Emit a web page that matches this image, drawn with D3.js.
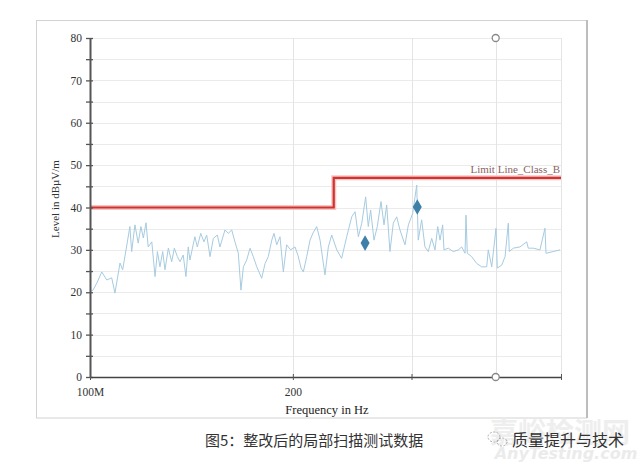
<!DOCTYPE html>
<html><head><meta charset="utf-8">
<script src="https://cdn.jsdelivr.net/npm/d3@7"></script>
<style>body{margin:0;background:#fff}svg{display:block}</style>
</head><body>
<svg id="c" width="643" height="468"></svg>
<script>
// ---- data ----
const freqMHz = [100,101.0,102.4,104.1,105.9,107.7,108.9,110.8,111.8,113.1,114.6,115.3,116.6,117.9,119.0,120.0,121.1,122.0,123.5,124.9,125.9,127.0,128.2,129.2,130.7,132.2,133.4,134.8,136.0,137.5,138.8,139.9,140.7,143.1,144.3,146.0,147.6,149.0,150.7,152.4,154.5,155.9,158.6,160.4,162.3,164.1,166.0,167.5,168.9,170.8,172.8,174.7,176.8,179.8,181.9,183.9,186.1,187.5,189.3,191.4,193.6,195.8,198.5,201.5,203.6,205.7,207.3,209.7,212.1,214.3,217.0,219.5,223.2,225.8,228.4,232.4,236.3,240.4,244.6,247.4,250.2,253.1,256.5,258.8,260.9,263.9,266.9,270.3,273.1,275.6,278.7,281.9,285.2,288.4,293.4,296.8,301.2,305.4,307.0,310.6,314.1,317.7,321.4,325.1,328.1,330.7,333.7,335.2,340.2,346.0,352.0,356.1,360.2,361.4,363.0,368.5,374.9,381.3,387.9,390.0,394.6,400.4,402.2,408.3,413.0,417.6,419.0,424.8,434.6,444.7,447.1,454.8,465.3,473.3,475.0,486.9,498.3];
const levelDb = [20.1,20.5,22.2,24.8,22.9,23.4,19.8,26.9,25.3,30.0,35.5,29.6,35.9,31.6,35.5,32.8,36.4,30.7,31.9,23.7,29.6,26.0,29.6,25.3,30.4,27.2,30.4,28.4,27.2,28.8,23.7,30.7,27.6,33.1,30.7,33.9,31.9,33.5,28.4,32.7,33.5,30.7,34.7,33.9,34.7,31.9,29.2,20.5,26.0,27.6,30.4,28.4,26.0,23.3,26.8,28.4,32.3,33.9,31.2,33.1,24.8,31.2,30.0,30.7,28.6,25.7,24.8,28.4,32.3,34.0,35.5,32.3,24.1,30.7,33.5,30.0,28.0,33.1,37.8,39.0,33.1,36.3,42.5,35.5,39.4,32.3,35.5,41.4,35.9,40.6,29.6,36.3,37.8,34.7,31.2,35.9,38.6,45.3,32.3,37.1,30.7,29.6,32.7,30.0,35.5,32.3,35.9,30.0,30.4,29.6,30.0,30.7,29.2,38.2,29.2,28.4,26.8,26.0,26.0,30.0,26.0,35.1,25.7,26.4,28.4,36.3,29.6,30.4,30.7,31.9,30.4,30.4,30.0,35.1,29.2,29.6,30.0];
const limitFreq = [100, 230, 230, 500];
const limitDb = [40, 40, 47, 47];
const limitName = "Limit Line_Class_B";
const peakFreq = [256, 306];
const peakDb = [31.6, 40.1];
const cursorFreq = [400, 400];
const cursorDb = [80, 0];
const xTicks = [100, 200, 300, 400, 500];
const xTickLabels = ["100M", "200", "", "", ""];
const yMajor = [0,10,20,30,40,50,60,70,80];
const yMinor = [5,15,25,35,45,55,65,75];
const xTitle = "Frequency in Hz";
const yTitle = "Level in dBµV/m";
const caption = "图5：整改后的局部扫描测试数据";
const brand = "质量提升与技术";

// ---- chart ----
const svg = d3.select("#c");
const L = 90, R = 561, T = 38, B = 377;
const x = d3.scaleLog().domain([100, 500]).range([L, R]);
const y = d3.scaleLinear().domain([0, 80]).range([B, T]);
const serif = "'Liberation Serif','DejaVu Serif',serif";

svg.append("rect").attr("width",643).attr("height",468).attr("fill","#fff");
// frame
svg.append("rect").attr("x",36.5).attr("y",20.5).attr("width",550).attr("height",397.5)
  .attr("fill","none").attr("stroke","#d2d2d2");
svg.append("line").attr("x1",587).attr("x2",587).attr("y1",20).attr("y2",418)
  .attr("stroke","#bdbdbd").attr("stroke-width",2);

// grid
const g = svg.append("g");
g.selectAll(".hg").data(yMajor.concat(yMinor).filter(d=>d>0)).join("line")
  .attr("x1",L).attr("x2",R).attr("y1",d=>Math.round(y(d))+0.5).attr("y2",d=>Math.round(y(d))+0.5)
  .attr("stroke","#ebebeb");
g.selectAll(".vg").data(xTicks.slice(1)).join("line")
  .attr("x1",d=>Math.round(x(d))+0.5).attr("x2",d=>Math.round(x(d))+0.5).attr("y1",T).attr("y2",B)
  .attr("stroke","#e4e4e4");

// trace
const pts = freqMHz.map((f,i)=>[f, levelDb[i]]);
svg.append("path").datum(pts)
  .attr("d", d3.line().x(d=>x(d[0])).y(d=>y(d[1])))
  .attr("fill","none").attr("stroke","#a6cbe0").attr("stroke-width",1);

// limit line
const lim = limitFreq.map((f,i)=>[f, limitDb[i]]);
const limLine = d3.line().x(d=>x(d[0])).y(d=>y(d[1]));
svg.append("path").datum(lim).attr("d",limLine).attr("fill","none")
  .attr("stroke","#f6c6c4").attr("stroke-width",5);
svg.append("path").datum(lim).attr("d",limLine).attr("fill","none")
  .attr("stroke","#d03432").attr("stroke-width",2.2);
svg.append("text").attr("x",x(limitFreq[3])-1).attr("y",y(limitDb[3])-5)
  .attr("text-anchor","end").attr("font-family",serif).attr("font-size",11)
  .attr("fill","#8a6464").text(limitName);

// axes
const yAxis = d3.axisLeft(y).tickValues(yMajor.concat(yMinor))
  .tickFormat(d=>yMajor.includes(d)?d:"").tickSizeInner(4).tickSizeOuter(0).tickPadding(4);
const ya = svg.append("g").attr("transform",`translate(${L},0)`).call(yAxis);
ya.select(".domain").attr("stroke","#555").attr("stroke-width",2);
ya.selectAll(".tick line").attr("x1",3).attr("x2",-4).attr("stroke","#555").attr("stroke-width",1.3);
ya.selectAll("text").attr("font-family",serif).attr("font-size",11.5).attr("fill","#333");

const xAxis = d3.axisBottom(x).tickValues(xTicks).tickFormat((d,i)=>xTickLabels[i])
  .tickSizeInner(3).tickSizeOuter(0).tickPadding(8);
const xa = svg.append("g").attr("transform",`translate(0,${B})`).call(xAxis);
xa.select(".domain").attr("stroke","#444").attr("stroke-width",1.6);
xa.selectAll(".tick line").attr("y1",-3).attr("y2",3).attr("stroke","#555");
xa.selectAll("text").attr("font-family",serif).attr("font-size",11.5).attr("fill","#333");

// titles
svg.append("text").attr("x",327).attr("y",414).attr("text-anchor","middle")
  .attr("font-family",serif).attr("font-size",12.5).attr("fill","#222").text(xTitle);
svg.append("text").attr("transform","translate(59,199) rotate(-90)").attr("text-anchor","middle")
  .attr("font-family",serif).attr("font-size",11).attr("fill","#333").text(yTitle);

// markers
svg.selectAll(".pk").data(peakFreq).join("path")
  .attr("transform",(d,i)=>`translate(${x(d)},${y(peakDb[i])})`)
  .attr("d", d3.symbol().type(d3.symbolDiamond).size(70))
  .attr("fill","#3f80a9");
svg.selectAll(".cu").data(cursorFreq).join("circle")
  .attr("cx",d=>x(d)).attr("cy",(d,i)=>y(cursorDb[i])).attr("r",3.5)
  .attr("fill","#fff").attr("stroke","#888").attr("stroke-width",1.3);

// caption and watermark
svg.append("text").attr("x",560).attr("y",443).attr("text-anchor","middle")
  .attr("font-family","'Noto Sans CJK SC'").attr("font-weight","bold").attr("font-size",28)
  .attr("fill","#eeeeee").text("嘉峪检测网");
svg.append("text").attr("x",566).attr("y",459).attr("text-anchor","middle")
  .attr("font-family","'DejaVu Sans',sans-serif").attr("font-style","italic").attr("font-weight","bold")
  .attr("font-size",16).attr("fill","#ebebeb").text("AnyTesting.com");
svg.append("text").attr("x",205).attr("y",446)
  .attr("font-family","'Noto Sans CJK SC'").attr("font-size",15).attr("fill","#333").text(caption);
const ic = svg.append("g").attr("fill","none").attr("stroke","#9a9a9a").attr("stroke-width",0.8).attr("stroke-dasharray","2,1.5");
ic.append("ellipse").attr("cx",494).attr("cy",437).attr("rx",6).attr("ry",5);
ic.append("ellipse").attr("cx",502).attr("cy",442).attr("rx",5).attr("ry",4);
svg.append("text").attr("x",512).attr("y",446)
  .attr("font-family","'Noto Sans CJK SC'").attr("font-size",16).attr("fill","#333").text(brand);
</script>
</body></html>
